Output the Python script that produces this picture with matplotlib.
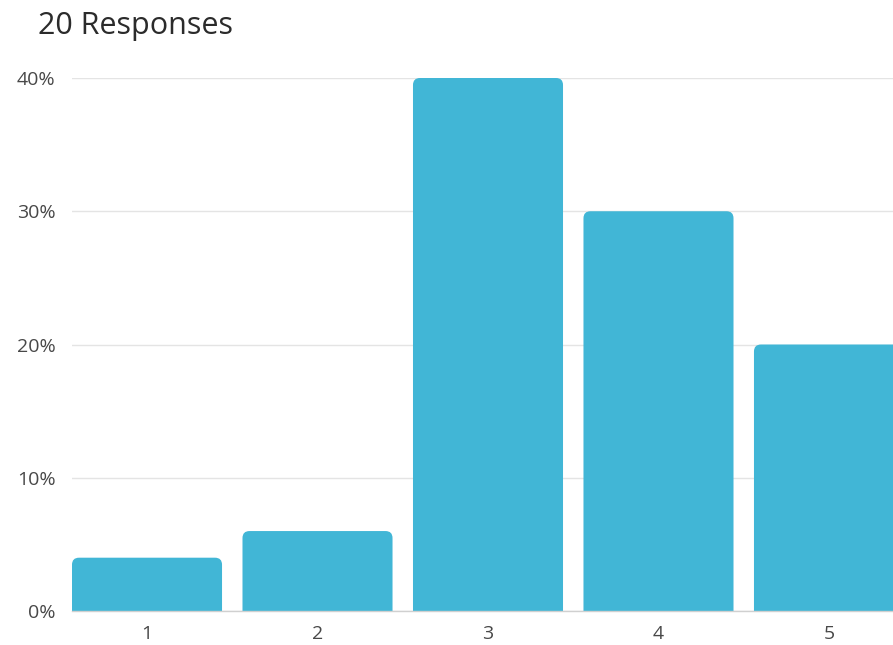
import matplotlib
matplotlib.use("Agg")
import matplotlib.pyplot as plt
from matplotlib.patches import FancyBboxPatch
from matplotlib.ticker import FuncFormatter

categories = ["1", "2", "3", "4", "5"]
percent = [4, 6, 40, 30, 20]
y_ticks = [0, 10, 20, 30, 40]

BAR_COLOR = "#41b6d6"
W, H = 893, 645

plt.rcParams["font.family"] = ["Open Sans", "DejaVu Sans"]

fig = plt.figure(figsize=(W / 100, H / 100), dpi=100)
fig.patch.set_facecolor("white")
ax = fig.add_axes([72 / W, 34 / H, 832 / W, 533 / H])

x = list(range(1, len(categories) + 1))
bar_w = 0.88
bars = ax.bar(x, percent, width=bar_w, color=BAR_COLOR, zorder=3)

# replace square bars with top-rounded ones (bottom hidden below the baseline)
ax.set_xlim(0.56, 5.44)
ax.set_ylim(0, 40)
fig.canvas.draw()
px_per_x = ax.transData.transform((1, 0))[0] - ax.transData.transform((0, 0))[0]
px_per_y = ax.transData.transform((0, 1))[1] - ax.transData.transform((0, 0))[1]
radius_px = 7
for b in bars:
    bx, bw, bh = b.get_x(), b.get_width(), b.get_height()
    b.set_visible(False)
    extra = 2.0
    p = FancyBboxPatch((bx, -extra), bw, bh + extra,
                       boxstyle=f"round,pad=0,rounding_size={radius_px / px_per_x}",
                       mutation_aspect=px_per_x / px_per_y,
                       facecolor=BAR_COLOR, edgecolor="none", zorder=3,
                       clip_on=True)
    ax.add_patch(p)

ax.set_xticks(x)
ax.set_xticklabels(categories)
ax.set_yticks(y_ticks)
ax.yaxis.set_major_formatter(FuncFormatter(lambda v, _: f"{int(v)}%"))
ax.tick_params(axis="both", length=0, labelsize=14, labelcolor="#484848")
ax.tick_params(axis="y", pad=12)
ax.tick_params(axis="x", pad=10)
for lbl in ax.get_yticklabels():
    lbl.set_horizontalalignment("right")

ax.grid(axis="y", color="#e4e4e4", linewidth=1, zorder=0)
ax.set_axisbelow(True)
for s in ["top", "right", "left"]:
    ax.spines[s].set_visible(False)
ax.spines["bottom"].set_color("#d0d0d0")
ax.spines["bottom"].set_linewidth(1)
ax.spines["bottom"].set_zorder(4)

fig.text(38 / W, 1 - 34 / H, "20 Responses", fontsize=22, color="#2b2b2b",
         ha="left", va="baseline")

fig.savefig("out.png", dpi=100)
